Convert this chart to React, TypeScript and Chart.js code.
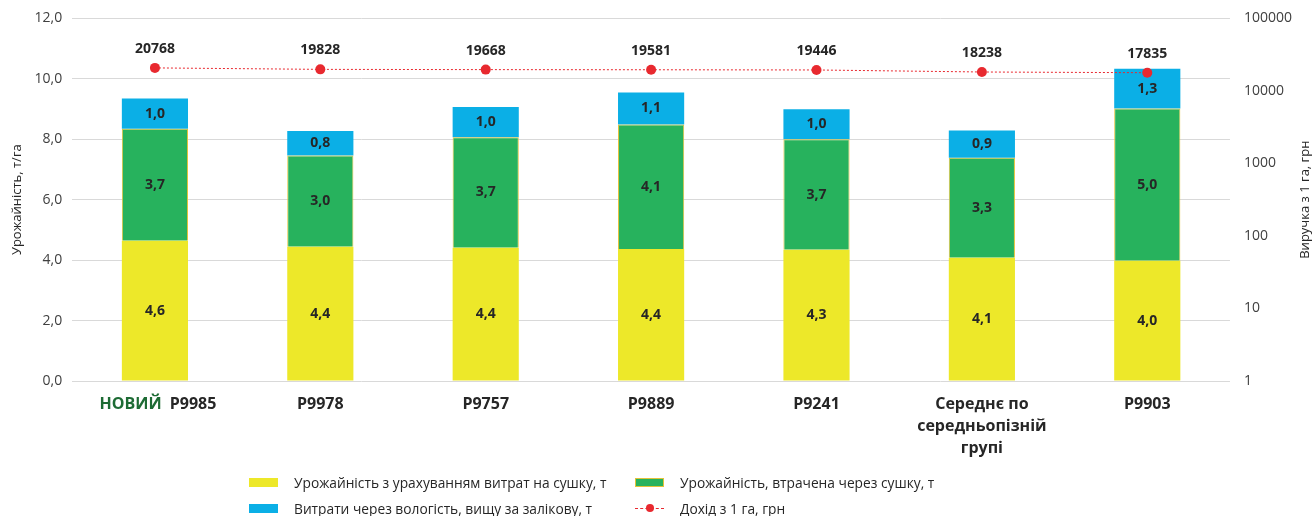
import React, { useEffect, useRef } from "react";
import { Chart, registerables } from "chart.js";

Chart.register(...registerables);

const categories: (string | string[])[] = [
  "НОВИЙ P9985",
  "P9978",
  "P9757",
  "P9889",
  "P9241",
  ["Середнє по", "середньопізній", "групі"],
  "P9903",
];
const yieldAfterDrying = [4.64, 4.44, 4.41, 4.37, 4.34, 4.08, 3.98];
const yieldLostDrying = [3.71, 3.02, 3.66, 4.12, 3.66, 3.31, 5.04];
const moistureLoss = [1.0, 0.81, 1.0, 1.06, 0.99, 0.9, 1.31];
const incomePerHa = [20768, 19828, 19668, 19581, 19446, 18238, 17835];
const rightTicks = [1, 10, 100, 1000, 10000, 100000];

const seriesNames = [
  "Урожайність з урахуванням витрат на сушку, т",
  "Урожайність, втрачена через сушку, т",
  "Витрати через вологість, вищу за залікову, т",
  "Дохід з 1 га, грн",
];
const leftTitle = "Урожайність, т/га";
const rightTitle = "Виручка з 1 га, грн";
const newLabel = "НОВИЙ";

const FONT = "'Open Sans', 'Noto Sans', sans-serif";
const C_YELLOW = "#ede829";
const C_GREEN = "#27b25d";
const C_GREEN_BORDER = "#e2c23a";
const C_BLUE = "#0bafe6";
const C_RED = "#e8292f";
const C_TEXT = "#262626";
const C_TICK = "#404040";

const labelPlugin = {
  id: "customLabels",
  afterDatasetsDraw(chart: any) {
    const ctx = chart.ctx;
    ctx.save();
    ctx.font = `bold 14px ${FONT}`;
    ctx.fillStyle = C_TEXT;
    ctx.textAlign = "center";
    ctx.textBaseline = "middle";
    chart.data.datasets.forEach((ds: any, i: number) => {
      const meta = chart.getDatasetMeta(i);
      meta.data.forEach((el: any, j: number) => {
        const v = ds.data[j];
        if (ds.type === "line") {
          ctx.fillText(String(v), el.x, el.y - 19);
        } else {
          ctx.fillText(v.toFixed(1).replace(".", ","), el.x, (el.y + el.base) / 2);
        }
      });
    });
    ctx.restore();
  },
  afterDraw(chart: any) {
    const ctx = chart.ctx;
    const xs = chart.scales.x;
    const area = chart.chartArea;
    ctx.save();
    // first category label with green "НОВИЙ"
    ctx.font = `bold 16px ${FONT}`;
    ctx.textBaseline = "middle";
    const full = categories[0] as string;
    const rest = full.substring(newLabel.length);
    const wFull = ctx.measureText(full).width + 4;
    const cx = xs.getPixelForValue(0) + 3;
    const y = area.bottom + 12 + 11;
    let x = cx - wFull / 2;
    ctx.textAlign = "left";
    ctx.fillStyle = "#1d6b34";
    ctx.fillText(newLabel, x, y);
    x += ctx.measureText(newLabel).width;
    ctx.fillStyle = C_TEXT;
    ctx.fillText(rest, x + 4, y);
    // right axis title, reading bottom to top
    const ys = chart.scales.y1;
    ctx.font = `13px ${FONT}`;
    ctx.fillStyle = C_TEXT;
    ctx.textAlign = "center";
    ctx.translate(chart.width - 9, (ys.top + ys.bottom) / 2);
    ctx.rotate(-Math.PI / 2);
    ctx.fillText(rightTitle, 0, 0);
    ctx.restore();
  },
};

function LegendItem({ kind, color, text }: { kind: string; color: string; text: string }) {
  const swatch =
    kind === "line" ? (
      <span style={{ position: "relative", display: "inline-block", width: 29, height: 10 }}>
        <span
          style={{
            position: "absolute",
            left: 0,
            right: 0,
            top: 4.5,
            borderTop: `1px dashed ${color}`,
          }}
        />
        <span
          style={{
            position: "absolute",
            left: 10.5,
            top: 1,
            width: 8,
            height: 8,
            borderRadius: 4,
            background: color,
          }}
        />
      </span>
    ) : (
      <span
        style={{
          display: "inline-block",
          width: 29,
          height: 9,
          background: color,
          boxSizing: "border-box",
          border: kind === "bordered" ? `1px solid ${C_GREEN_BORDER}` : "none",
        }}
      />
    );
  return (
    <div style={{ display: "flex", alignItems: "center", height: 26 }}>
      {swatch}
      <span style={{ marginLeft: 16, fontFamily: FONT, fontSize: 13.75, color: C_TEXT, whiteSpace: "nowrap" }}>
        {text}
      </span>
    </div>
  );
}

export default function App() {
  const ref = useRef<HTMLCanvasElement>(null);
  useEffect(() => {
    if (!ref.current) return;
    const chart = new Chart(ref.current, {
      type: "bar",
      data: {
        labels: categories,
        datasets: [
          {
            type: "line",
            label: seriesNames[3],
            data: incomePerHa,
            yAxisID: "y1",
            borderColor: C_RED,
            borderWidth: 1,
            borderDash: [2, 2],
            pointRadius: 5,
            pointBackgroundColor: C_RED,
            pointBorderWidth: 0,
            order: 0,
          } as any,
          {
            label: seriesNames[0],
            data: yieldAfterDrying,
            backgroundColor: C_YELLOW,
            yAxisID: "y",
            order: 1,
          },
          {
            label: seriesNames[1],
            data: yieldLostDrying,
            backgroundColor: C_GREEN,
            borderColor: C_GREEN_BORDER,
            borderWidth: 1,
            yAxisID: "y",
            order: 1,
          },
          {
            label: seriesNames[2],
            data: moistureLoss,
            backgroundColor: C_BLUE,
            yAxisID: "y",
            order: 1,
          },
        ],
      },
      options: {
        responsive: false,
        animation: false,
        barPercentage: 0.4,
        categoryPercentage: 1,
        layout: { padding: { top: 6, left: 9, right: 16, bottom: 45 } },
        plugins: {
          legend: { display: false },
          tooltip: { enabled: false },
        },
        scales: {
          x: {
            stacked: true,
            grid: { display: false, drawTicks: false },
            border: { display: false },
            ticks: {
              padding: 12,
              maxRotation: 0,
              autoSkip: false,
              font: { family: FONT, size: 16, weight: "bold", lineHeight: 1.375 },
              color: (c: any) => (c.index === 0 ? "rgba(0,0,0,0)" : C_TEXT),
            },
          },
          y: {
            stacked: true,
            position: "left",
            min: 0,
            max: 12,
            ticks: {
              stepSize: 2,
              padding: 10,
              color: C_TICK,
              font: { family: FONT, size: 14 },
              callback: (v: any) => Number(v).toFixed(1).replace(".", ","),
            },
            grid: { color: "#d9d9d9", drawTicks: false },
            border: { display: false },
            title: {
              display: true,
              text: leftTitle,
              color: C_TEXT,
              font: { family: FONT, size: 13 },
              padding: { top: 0, bottom: 0 },
            },
          },
          y1: {
            type: "logarithmic",
            position: "right",
            min: 1,
            max: 100000,
            afterBuildTicks: (scale: any) => {
              scale.ticks = rightTicks.map((v) => ({ value: v }));
            },
            ticks: {
              padding: 6,
              color: C_TICK,
              font: { family: FONT, size: 14 },
              callback: (v: any) => String(v),
            },
            grid: { display: false },
            border: { display: false },
          },
        },
      },
      plugins: [labelPlugin],
    } as any);
    return () => chart.destroy();
  }, []);

  return (
    <div style={{ position: "fixed", left: 0, top: 0, width: 1314, height: 516, background: "#fff" }}>
      <canvas ref={ref} width={1314} height={516} style={{ display: "block" }} />
      <div style={{ position: "absolute", left: 249, top: 469 }}>
        <LegendItem kind="box" color={C_YELLOW} text={seriesNames[0]} />
        <LegendItem kind="box" color={C_BLUE} text={seriesNames[2]} />
      </div>
      <div style={{ position: "absolute", left: 635, top: 469 }}>
        <LegendItem kind="bordered" color={C_GREEN} text={seriesNames[1]} />
        <LegendItem kind="line" color={C_RED} text={seriesNames[3]} />
      </div>
    </div>
  );
}
